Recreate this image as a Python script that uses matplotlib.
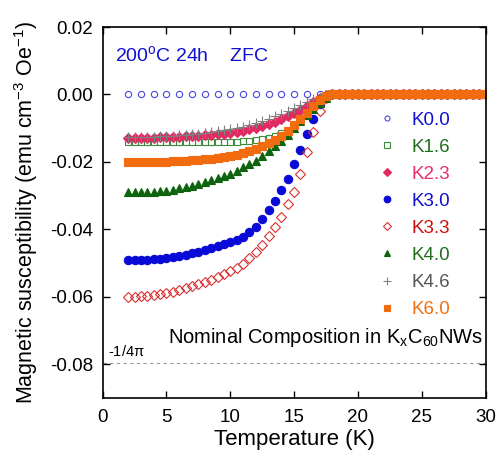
import matplotlib
matplotlib.use("Agg")
import matplotlib.pyplot as plt

plt.rcParams['font.family'] = ['Liberation Sans', 'DejaVu Sans']
plt.rcParams['mathtext.default'] = 'regular'

# temperature grid below/around Tc (K)
T_sc = [2.0, 2.5, 3.0, 3.5, 4.0, 4.5, 5.0, 5.5, 6.0, 6.5, 7.0, 7.5, 8.0, 8.5,
        9.0, 9.5, 10.0, 10.5, 11.0, 11.5, 12.0, 12.5, 13.0, 13.5, 14.0, 14.5,
        15.0, 15.5, 16.0, 16.5, 17.0, 17.5, 18.0]
# normal state above Tc
T_n = [18.5, 19.0, 19.5, 20.0, 20.5, 21.0, 21.5, 22.0, 22.5, 23.0, 23.5, 24.0,
       24.5, 25.0, 25.5, 26.0, 26.5, 27.0, 27.5, 28.0, 28.5, 29.0, 29.5, 30.0]
chi_n = [0.0, 0.0, 0.0, 0.0, 0.0, 0.0, 0.0, 0.0, 0.0, 0.0, 0.0, 0.0,
         0.0, 0.0, 0.0, 0.0, 0.0, 0.0, 0.0, 0.0, 0.0, 0.0, 0.0, 0.0]

# undoped sample, measured every 1 K
T_k00 = [2, 3, 4, 5, 6, 7, 8, 9, 10, 11, 12, 13, 14, 15, 16, 17, 18, 19, 20,
         21, 22, 23, 24, 25, 26, 27, 28, 29, 30]
chi_k00 = [0.0, 0.0, 0.0, 0.0, 0.0, 0.0, 0.0, 0.0, 0.0, 0.0, 0.0, 0.0, 0.0,
           0.0, 0.0, 0.0, 0.0, 0.0, 0.0, 0.0, 0.0, 0.0, 0.0, 0.0, 0.0, 0.0,
           0.0, 0.0, 0.0]

chi_k16 = [-0.0141, -0.0141, -0.0141, -0.0141, -0.0141, -0.0141, -0.0141,
           -0.0141, -0.0141, -0.0141, -0.0141, -0.0141, -0.0141, -0.0141,
           -0.0141, -0.0141, -0.0140, -0.0140, -0.0139, -0.0138, -0.0136,
           -0.0133, -0.0129, -0.0123, -0.0115, -0.0104, -0.0090, -0.0072,
           -0.0052, -0.0032, -0.0015, -0.0004, 0.0]
chi_k23 = [-0.0128, -0.0128, -0.0128, -0.0128, -0.0128, -0.0127, -0.0127,
           -0.0126, -0.0125, -0.0124, -0.0123, -0.0122, -0.0121, -0.0119,
           -0.0118, -0.0116, -0.0113, -0.0110, -0.0107, -0.0103, -0.0098,
           -0.0093, -0.0087, -0.0081, -0.0073, -0.0064, -0.0055, -0.0045,
           -0.0034, -0.0022, -0.0010, -0.0003, 0.0]
chi_k30 = [-0.0491, -0.0491, -0.0490, -0.0490, -0.0489, -0.0487, -0.0485,
           -0.0482, -0.0479, -0.0475, -0.0471, -0.0466, -0.0461, -0.0456,
           -0.0450, -0.0444, -0.0438, -0.0431, -0.0422, -0.0409, -0.0392,
           -0.0368, -0.0343, -0.0316, -0.0284, -0.0250, -0.0207, -0.0164,
           -0.0118, -0.0072, -0.0028, -0.0005, 0.0]
chi_k33 = [-0.0600, -0.0600, -0.0599, -0.0598, -0.0596, -0.0593, -0.0589,
           -0.0585, -0.0580, -0.0575, -0.0569, -0.0563, -0.0556, -0.0549,
           -0.0541, -0.0532, -0.0524, -0.0514, -0.0502, -0.0486, -0.0468,
           -0.0445, -0.0420, -0.0393, -0.0362, -0.0326, -0.0288, -0.0237,
           -0.0172, -0.0110, -0.0050, -0.0010, 0.0]
chi_k40 = [-0.0289, -0.0289, -0.0289, -0.0289, -0.0288, -0.0287, -0.0285,
           -0.0282, -0.0278, -0.0274, -0.0270, -0.0265, -0.0260, -0.0254,
           -0.0248, -0.0242, -0.0235, -0.0226, -0.0216, -0.0206, -0.0196,
           -0.0183, -0.0169, -0.0154, -0.0138, -0.0120, -0.0100, -0.0080,
           -0.0060, -0.0042, -0.0025, -0.0010, 0.0]
chi_k46 = [-0.0125, -0.0125, -0.0125, -0.0125, -0.0125, -0.0124, -0.0123,
           -0.0122, -0.0121, -0.0120, -0.0118, -0.0116, -0.0114, -0.0112,
           -0.0109, -0.0106, -0.0103, -0.0099, -0.0095, -0.0090, -0.0085,
           -0.0079, -0.0072, -0.0065, -0.0057, -0.0048, -0.0040, -0.0031,
           -0.0022, -0.0014, -0.0007, -0.0002, 0.0]
chi_k60 = [-0.0200, -0.0200, -0.0200, -0.0200, -0.0200, -0.0199, -0.0199,
           -0.0198, -0.0197, -0.0196, -0.0195, -0.0193, -0.0192, -0.0190,
           -0.0187, -0.0184, -0.0181, -0.0178, -0.0174, -0.0169, -0.0162,
           -0.0154, -0.0145, -0.0134, -0.0122, -0.0108, -0.0090, -0.0072,
           -0.0054, -0.0034, -0.0016, -0.0004, 0.0]

labels = ['K0.0', 'K1.6', 'K2.3', 'K3.0', 'K3.3', 'K4.0', 'K4.6', 'K6.0']
label_colors = ['#1010d0', '#1e6e1e', '#e8306a', '#1010d0', '#cc1010',
                '#1e6e1e', '#555555', '#f07010']
full_limit = -1 / (4 * 3.141592653589793)

fig = plt.figure(figsize=(4.97, 4.58), dpi=100)
ax = fig.add_axes([0.2066, 0.131, 0.7703, 0.810])

# (x, y, marker, size, face, edge, edge width)
series = [
    (T_k00, chi_k00, 'o', 4.5, 'none', '#4848e8', 0.8),
    (T_sc + T_n, chi_k16 + chi_n, 's', 5.0, 'none', '#3c8c3c', 0.8),
    (T_sc + T_n, chi_k23 + chi_n, 'D', 5.2, '#e22a62', '#e22a62', 0.8),
    (T_sc + T_n, chi_k30 + chi_n, 'o', 6.0, '#0a0ad8', '#0a0ad8', 0.8),
    (T_sc + T_n, chi_k33 + chi_n, 'D', 5.2, 'none', '#d83030', 0.8),
    (T_sc + T_n, chi_k40 + chi_n, '^', 6.2, '#0e640e', '#0e640e', 0.8),
    (T_sc + T_n, chi_k46 + chi_n, '+', 7.5, 'none', '#808080', 0.8),
    (T_sc + T_n, chi_k60 + chi_n, 's', 5.4, '#f26b0f', '#f26b0f', 0.8),
]
for (x, y, m, ms, fc, ec, mew), lab in zip(series, labels):
    ax.plot(x, y, linestyle='none', marker=m, markersize=ms,
            markerfacecolor=fc, markeredgecolor=ec, markeredgewidth=mew,
            label=lab)

ax.axhline(full_limit, color='#999999', lw=0.8, ls=(0, (3, 3)), zorder=0)
ax.text(0.4, full_limit + 0.0012, r'-1/4$\pi$', fontsize=10.5, va='bottom')

ax.set_xlim(0, 30)
ax.set_ylim(-0.09, 0.02)
ax.set_xticks([0, 5, 10, 15, 20, 25, 30])
ax.set_yticks([0.02, 0.00, -0.02, -0.04, -0.06, -0.08])
ax.set_yticklabels(['0.02', '0.00', '-0.02', '-0.04', '-0.06', '-0.08'])
ax.tick_params(direction='in', length=5, width=1, top=True, right=True,
               labelsize=13.5)
ax.tick_params(axis='x', pad=8)
ax.tick_params(axis='y', pad=7)
for s in ax.spines.values():
    s.set_linewidth(1.2)

ax.set_xlabel('Temperature (K)', fontsize=16, labelpad=2)
ax.set_ylabel('Magnetic susceptibility (emu cm$^{-3}$ Oe$^{-1}$)',
              fontsize=15.5, labelpad=7)

ax.text(1.0, 0.0117, '200$^{o}$C 24h    ZFC', color='#1010d0', fontsize=14,
        va='center')
ax.text(29.8, -0.0738, 'Nominal Composition in K$_x$C$_{60}$NWs',
        fontsize=14.5, ha='right', va='baseline')

ax.legend(loc='upper left', bbox_to_anchor=(0.718, 0.772), frameon=False,
          fontsize=13.5, handlelength=1.0, handletextpad=0.8,
          labelspacing=0.53, borderpad=0, borderaxespad=0, markerscale=0.8,
          labelcolor=label_colors)

fig.savefig('out.png', dpi=100)
